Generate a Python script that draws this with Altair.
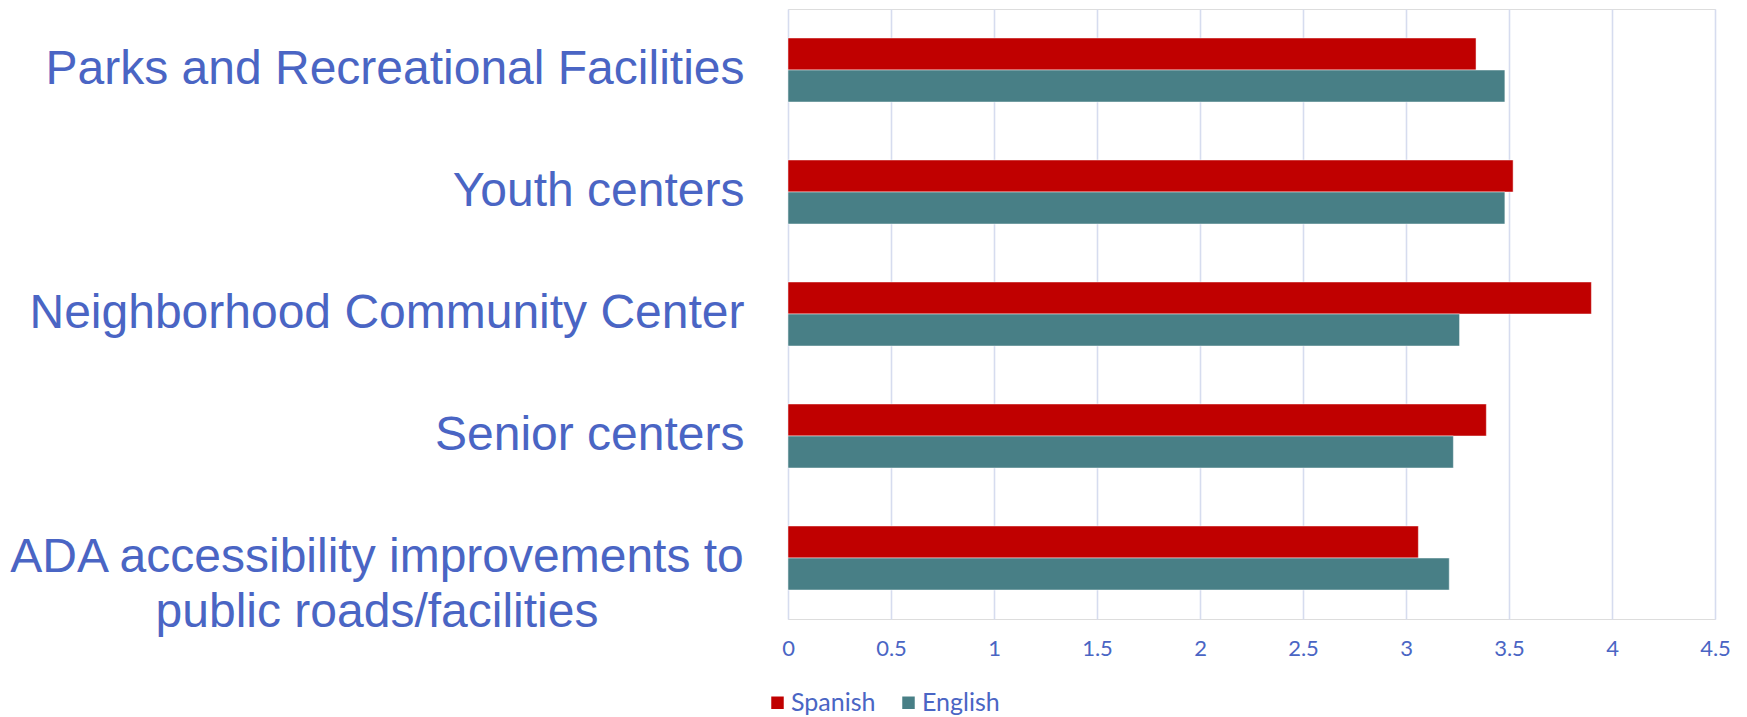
import altair as alt
import pandas as pd

categories = [
    "Parks and Recreational Facilities",
    "Youth centers",
    "Neighborhood Community Center",
    "Senior centers",
    "ADA accessibility improvements to public roads/facilities",
]
spanish = [3.34, 3.52, 3.90, 3.39, 3.06]
english = [3.48, 3.48, 3.26, 3.23, 3.21]
series = ["Spanish", "English"]
colors = ["#C00000", "#487F86"]
x_ticks = [0, 0.5, 1, 1.5, 2, 2.5, 3, 3.5, 4, 4.5]
wrapped_category = categories[4]
wrapped_text = "ADA accessibility improvements to\npublic roads/facilities"

rows = []
for c, s, e in zip(categories, spanish, english):
    rows.append({"category": c, "language": "Spanish", "value": s})
    rows.append({"category": c, "language": "English", "value": e})
df = pd.DataFrame(rows)
df_wrap = pd.DataFrame([{"category": wrapped_category, "text": wrapped_text}])

label_color = "#4a65c4"
label_expr = "datum.label == '" + wrapped_category + "' ? '' : datum.label"

y_scale = alt.Scale(domain=categories, paddingInner=0.475, paddingOuter=0.2375)

bars = (
    alt.Chart(df)
    .mark_bar(stroke="#ffffff", strokeWidth=0.8, strokeOpacity=0.6)
    .encode(
        x=alt.X(
            "value:Q",
            scale=alt.Scale(domain=[0, 4.5], nice=False, zero=True),
            axis=alt.Axis(
                values=x_ticks,
                format=".1~f",
                title=None,
                domain=False,
                ticks=False,
                tickSize=0,
                grid=True,
                gridColor="#d6dcef",
                gridWidth=1.6,
                labelFont="Lato",
                labelFontSize=22,
                labelColor=label_color,
                labelPadding=19,
                labelFlush=False,
            ),
        ),
        y=alt.Y(
            "category:N",
            sort=categories,
            scale=y_scale,
            axis=alt.Axis(
                title=None,
                domain=False,
                ticks=False,
                tickSize=0,
                grid=False,
                labelFont="Liberation Sans",
                labelFontSize=48,
                labelColor=label_color,
                labelPadding=44,
                labelAlign="right",
                labelBaseline="middle",
                labelLimit=0,
                labelExpr=label_expr,
            ),
        ),
        yOffset=alt.YOffset("language:N", sort=series),
        color=alt.Color(
            "language:N",
            sort=series,
            scale=alt.Scale(domain=series, range=colors),
            legend=alt.Legend(
                title=None,
                orient="none",
                direction="horizontal",
                legendX=-23,
                legendY=681,
                symbolType="square",
                symbolSize=156,
                symbolStrokeWidth=0,
                labelFont="Lato",
                labelFontSize=25,
                labelColor=label_color,
                labelOffset=1,
                columnPadding=20,
                padding=0,
            ),
        ),
    )
)

wrap_label = (
    alt.Chart(df_wrap)
    .mark_text(
        align="center",
        baseline="middle",
        lineBreak="\n",
        lineHeight=55,
        font="Liberation Sans",
        fontSize=48,
        color=label_color,
        dx=-411,
    )
    .encode(
        x=alt.value(0),
        y=alt.Y("category:N", sort=categories, scale=y_scale),
        text="text:N",
    )
)

chart = (
    alt.layer(bars, wrap_label)
    .properties(
        width=927,
        height=610,
        autosize=alt.AutoSizeParams(type="none"),
        padding={"left": 780, "top": 1, "right": 24, "bottom": 100},
    )
    .configure_view(stroke="transparent", strokeWidth=0)
    .configure(background="#ffffff")
)

chart.save("out.html", embed_options={"renderer": "svg", "actions": False})
